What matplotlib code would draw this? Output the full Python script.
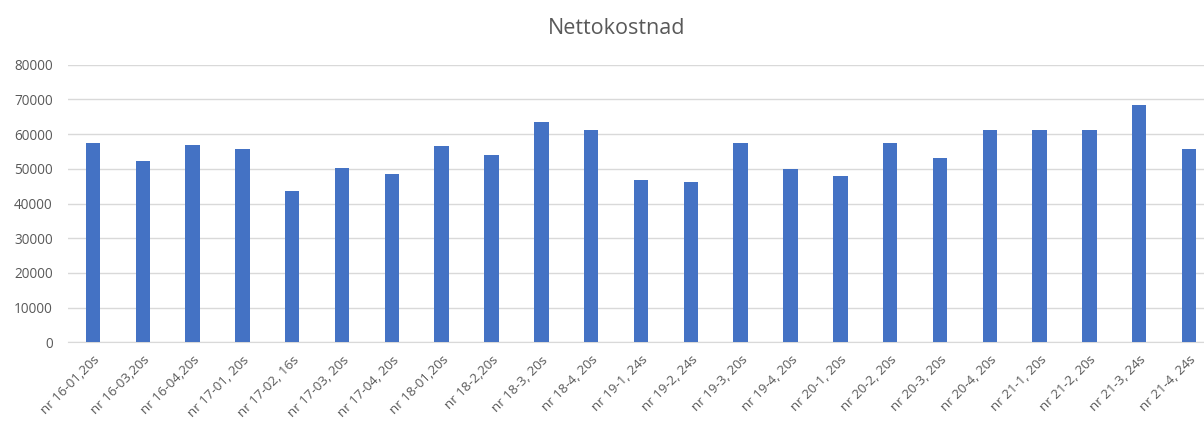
import matplotlib
matplotlib.use("Agg")
import matplotlib.pyplot as plt

labels = ["nr 16-01,20s", "nr 16-03,20s", "nr 16-04,20s", "nr 17-01, 20s", "nr 17-02, 16s",
          "nr 17-03, 20s", "nr 17-04, 20s", "nr 18-01,20s", "nr 18-2,20s", "nr 18-3, 20s",
          "nr 18-4, 20s", "nr 19-1, 24s", "nr 19-2, 24s", "nr 19-3, 20s", "nr 19-4, 20s",
          "nr 20-1, 20s", "nr 20-2, 20s", "nr 20-3, 20s", "nr 20-4, 20s", "nr 21-1, 20s",
          "nr 21-2, 20s", "nr 21-3, 24s", "nr 21-4, 24s"]
values = [57400, 52300, 57000, 55700, 43700, 50100, 48400, 56500, 54000, 63400,
          61300, 46800, 46300, 57400, 49800, 48000, 57400, 53100, 61300, 61300,
          61300, 68500, 55700]
yticks = [0, 10000, 20000, 30000, 40000, 50000, 60000, 70000, 80000]

grey = "#595959"
plt.rcParams['font.family'] = ['Open Sans', 'DejaVu Sans']

fig = plt.figure(figsize=(12.04, 4.26), dpi=100)
ax = fig.add_axes([68 / 1204, 1 - 342.3 / 426, (1214 - 68) / 1204, (342.3 - 64.7) / 426])

x = range(len(values))
ax.bar(x, values, width=0.29, color="#4472C4", zorder=3)

ax.set_xlim(-0.5, len(values) - 0.5)
ax.set_ylim(0, 80000)
ax.set_yticks(yticks)
ax.set_yticklabels([str(v) for v in yticks], fontsize=9.8, color=grey)
ax.set_xticks(list(x))
ax.set_xticklabels(labels, rotation=45, ha="right", rotation_mode="anchor",
                   fontsize=9.6, color=grey)
ax.tick_params(length=0)
ax.tick_params(axis="y", pad=11)
ax.tick_params(axis="x", pad=8)
ax.yaxis.grid(True, color="#d9d9d9", linewidth=1, zorder=0)
for s in ["top", "right", "left"]:
    ax.spines[s].set_visible(False)
ax.spines["bottom"].set_color("#d9d9d9")

fig.text(617 / 1204, 1 - 28 / 426, "Nettokostnad", ha="center", va="center",
         fontsize=15.5, color=grey)

fig.savefig("out.png", dpi=100)
